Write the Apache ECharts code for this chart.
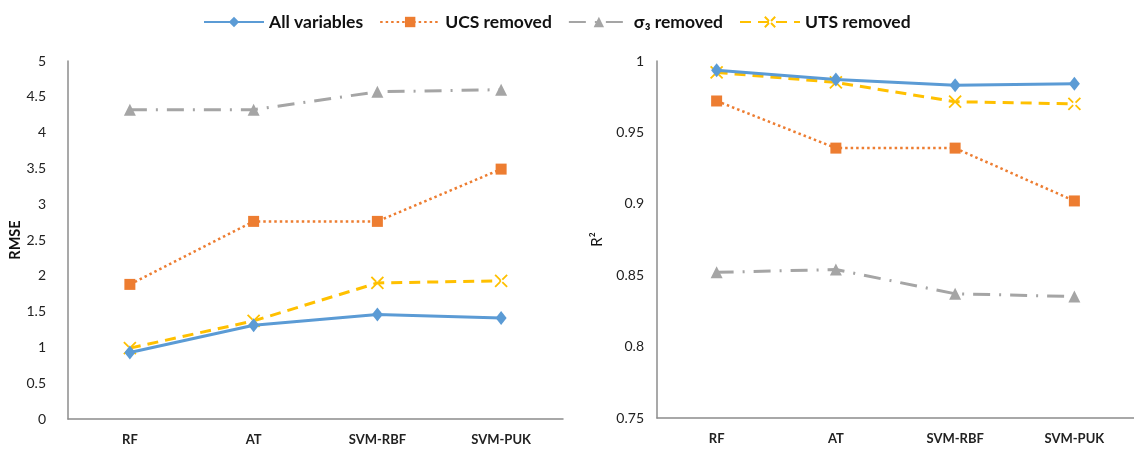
<!DOCTYPE html>
<html><head><meta charset="utf-8">
<script src="https://cdn.jsdelivr.net/npm/echarts@6/dist/echarts.min.js"></script>
<style>html,body{margin:0;padding:0;background:#fff}#c{width:1134px;height:450px}</style>
</head><body><div id="c"></div>
<script>
const categories = ['RF', 'AT', 'SVM-RBF', 'SVM-PUK'];
const seriesNames = ['All variables', 'UCS removed', 'σ₃ removed', 'UTS removed'];
const rmseAll = [0.93, 1.31, 1.46, 1.41];
const rmseUCS = [1.88, 2.76, 2.76, 3.49];
const rmseSigma3 = [4.32, 4.32, 4.57, 4.60];
const rmseUTS = [0.99, 1.37, 1.90, 1.93];
const r2All = [0.9935, 0.987, 0.983, 0.984];
const r2UCS = [0.972, 0.939, 0.939, 0.902];
const r2Sigma3 = [0.852, 0.854, 0.837, 0.835];
const r2UTS = [0.992, 0.985, 0.9715, 0.970];
const rmseTicks = {min: 0, max: 5, interval: 0.5};
const r2Ticks = {min: 0.75, max: 1, interval: 0.05};

const FONT = 'Lato';
const colors = ['#5B9BD5', '#ED7D31', '#A5A5A5', '#FFC000'];
const styles = [
  {symbol: 'diamond', symbolSize: [11, 14], lineStyle: {width: 3, type: 'solid'}},
  {symbol: 'rect', symbolSize: 11, lineStyle: {width: 2.5, type: [2.5, 3]}},
  {symbol: 'triangle', symbolSize: [12, 12], lineStyle: {width: 3, type: [17, 9, 2, 9]}},
  {symbol: 'path://M0,0L4,4M6,6L10,10M10,0L6,4M4,6L0,10', symbolSize: 12, lineStyle: {width: 3, type: [11, 7]}}
];
const leftData = [rmseAll, rmseUCS, rmseSigma3, rmseUTS];
const rightData = [r2All, r2UCS, r2Sigma3, r2UTS];

function mk(i, data, idx) {
  const s = styles[i];
  const isX = i === 3;
  return {
    name: seriesNames[i], type: 'line', xAxisIndex: idx, yAxisIndex: idx, data: data,
    symbol: s.symbol, symbolSize: s.symbolSize, showAllSymbol: true,
    lineStyle: Object.assign({color: colors[i]}, s.lineStyle),
    itemStyle: isX ? {color: 'rgba(0,0,0,0)', borderColor: colors[i], borderWidth: 1.8} : {color: colors[i], borderWidth: 0},
    emphasis: {disabled: true}, animation: false, z: 10 - i
  };
}
const series = [];
for (let i = 0; i < 4; i++) series.push(mk(i, leftData[i], 0));
for (let i = 0; i < 4; i++) series.push(mk(i, rightData[i], 1));

const xCommon = {
  type: 'category', data: categories, boundaryGap: true,
  axisLine: {lineStyle: {color: '#8c8c8c', width: 1.5}},
  axisTick: {show: false},
  axisLabel: {color: '#222', fontFamily: FONT, fontSize: 13, fontWeight: 'bold', margin: 14}
};
const yCommon = {
  type: 'value', splitLine: {show: false}, axisTick: {show: false},
  axisLine: {show: true, lineStyle: {color: '#8c8c8c', width: 1.5}},
  nameLocation: 'middle', nameRotate: 90
};

const chart = echarts.init(document.getElementById('c'), null, {renderer: 'canvas'});
chart.setOption({
  animation: false,
  textStyle: {fontFamily: FONT},
  legend: {
    data: seriesNames, top: 8, left: 198, itemWidth: 60, itemHeight: 13, itemGap: 16,
    textStyle: {fontFamily: FONT, fontSize: 17.5, fontWeight: 'bold', color: '#111'}
  },
  grid: [
    {left: 68, top: 61, width: 495, height: 358},
    {left: 657, top: 61, width: 488, height: 357}
  ],
  xAxis: [Object.assign({gridIndex: 0}, xCommon), Object.assign({gridIndex: 1}, xCommon)],
  yAxis: [
    Object.assign({gridIndex: 0, name: 'RMSE', nameGap: 42,
      nameTextStyle: {fontFamily: FONT, fontSize: 14.5, fontWeight: 'bold', color: '#111'},
      axisLabel: {color: '#222', fontFamily: FONT, fontSize: 14, margin: 22}}, rmseTicks, yCommon),
    Object.assign({gridIndex: 1, name: 'R²', nameGap: 52,
      nameTextStyle: {fontFamily: FONT, fontSize: 15, color: '#111'},
      axisLabel: {color: '#222', fontFamily: FONT, fontSize: 14, margin: 13}}, r2Ticks, yCommon)
  ],
  series: series
});
</script></body></html>
